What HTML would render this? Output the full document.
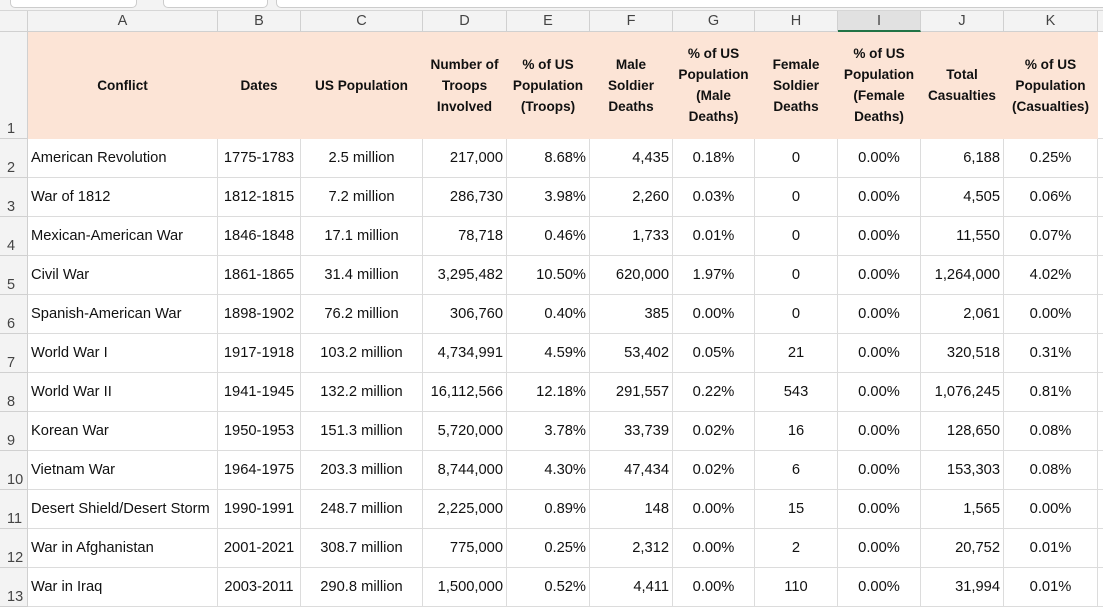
<!DOCTYPE html>
<html><head><meta charset="utf-8"><style>
body{margin:0;width:1103px;height:606px;overflow:hidden;background:#fff;font-family:"Liberation Sans",sans-serif;position:relative}
.top{position:absolute;left:0;top:0;width:1103px;height:10px;background:#f3f3f3;border-bottom:1px solid #d6d6d6}
.tab{position:absolute;top:-6px;height:12px;background:#fff;border:1px solid #ccc;border-radius:5px}
.cell{position:absolute;box-sizing:border-box;border-right:1px solid #dcdcdc;border-bottom:1px solid #dcdcdc;font-size:14.7px;color:#111;padding:0 3px;white-space:nowrap;overflow:hidden;display:flex;align-items:center}
.ch{background:#f3f3f3;color:#444;justify-content:center;border-color:#d0d0d0;font-size:14.5px}
.sel{background:#e1e1e1;border-bottom:2px solid #217346}
.rh{background:#f3f3f3;color:#444;align-items:flex-end;padding-left:7px;padding-bottom:1px;border-color:#d0d0d0;font-size:14.5px}
.hd{background:#fce4d6;font-weight:bold;font-size:13.6px;justify-content:center;text-align:center;white-space:normal;line-height:21px;border-color:#fce4d6;padding:0 2px}
.l{justify-content:flex-start}.r{justify-content:flex-end}.m{justify-content:center}
</style></head><body>
<div class="top">
<div class="tab" style="left:10px;width:125px"></div>
<div class="tab" style="left:163px;width:103px"></div>
<div class="tab" style="left:276px;width:840px"></div>
</div>
<div id="grid"></div>
<script>
var edges=[0,28,218,301,423,507,590,673,755,838,921,1004,1098,1140];
var letters=["","A","B","C","D","E","F","G","H","I","J","K",""];
var headers=["Conflict","Dates","US Population","Number of Troops Involved","% of US Population (Troops)","Male Soldier Deaths","% of US Population (Male Deaths)","Female Soldier Deaths","% of US Population (Female Deaths)","Total Casualties","% of US Population (Casualties)"];
var hnames=["conflict","dates","us-population","troops","pct-troops","male-deaths","pct-male","female-deaths","pct-female","total-casualties","pct-casualties"];
var rows=[
["American Revolution","1775-1783","2.5 million","217,000","8.68%","4,435","0.18%","0","0.00%","6,188","0.25%"],
["War of 1812","1812-1815","7.2 million","286,730","3.98%","2,260","0.03%","0","0.00%","4,505","0.06%"],
["Mexican-American War","1846-1848","17.1 million","78,718","0.46%","1,733","0.01%","0","0.00%","11,550","0.07%"],
["Civil War","1861-1865","31.4 million","3,295,482","10.50%","620,000","1.97%","0","0.00%","1,264,000","4.02%"],
["Spanish-American War","1898-1902","76.2 million","306,760","0.40%","385","0.00%","0","0.00%","2,061","0.00%"],
["World War I","1917-1918","103.2 million","4,734,991","4.59%","53,402","0.05%","21","0.00%","320,518","0.31%"],
["World War II","1941-1945","132.2 million","16,112,566","12.18%","291,557","0.22%","543","0.00%","1,076,245","0.81%"],
["Korean War","1950-1953","151.3 million","5,720,000","3.78%","33,739","0.02%","16","0.00%","128,650","0.08%"],
["Vietnam War","1964-1975","203.3 million","8,744,000","4.30%","47,434","0.02%","6","0.00%","153,303","0.08%"],
["Desert Shield/Desert Storm","1990-1991","248.7 million","2,225,000","0.89%","148","0.00%","15","0.00%","1,565","0.00%"],
["War in Afghanistan","2001-2021","308.7 million","775,000","0.25%","2,312","0.00%","2","0.00%","20,752","0.01%"],
["War in Iraq","2003-2011","290.8 million","1,500,000","0.52%","4,411","0.00%","110","0.00%","31,994","0.01%"]];
var al=["l","m","m","r","r","r","m","m","m","r","m"];
var g=document.getElementById('grid');
function mk(cls,x,y,w,h,txt){var d=document.createElement('div');d.className='cell '+cls;d.style.left=x+'px';d.style.top=y+'px';d.style.width=w+'px';d.style.height=h+'px';d.textContent=txt;g.appendChild(d);return d;}
for(var c=0;c<13;c++){
 var d=mk('ch'+(c==9?' sel':''),edges[c],11,edges[c+1]-edges[c],21,letters[c]);
 
 
}
var r1=mk('rh',0,32,28,107,'1');


for(var c=1;c<12;c++){
 var d=mk('hd',edges[c],32,edges[c+1]-edges[c],107,headers[c-1]);
 
 
}
var e0=mk('',1098,32,42,107,'');


rows.forEach(function(r,i){
 var y=139+i*39;
 var h=mk('rh',0,y,28,39,String(i+2));
 
 
 r.forEach(function(v,j){
  var d=mk(al[j],edges[j+1],y,edges[j+2]-edges[j+1],39,v);
  
  
 });
 var e=mk('',1098,y,42,39,'');
 
 
});
</script>
</body></html>
